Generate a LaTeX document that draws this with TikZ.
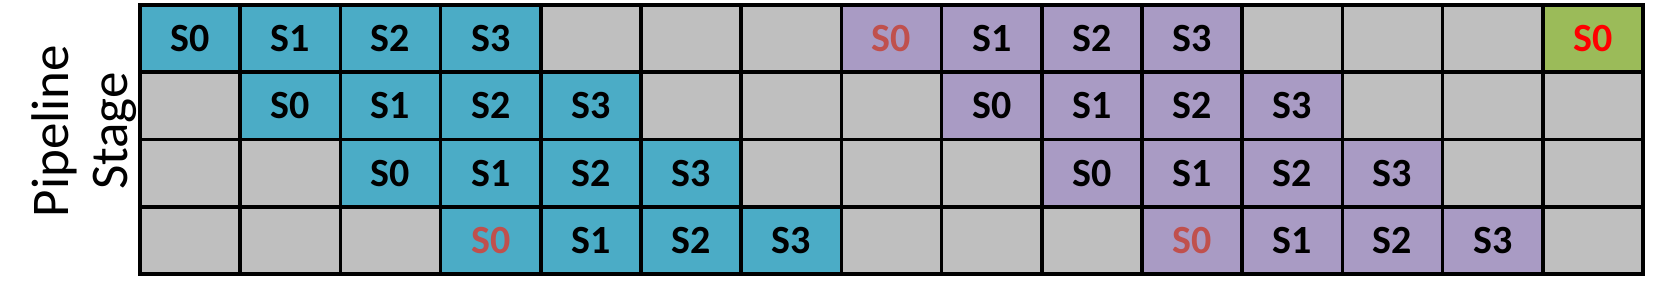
\documentclass[tikz,border=0pt]{standalone}
\usepackage{fontspec}
\setmainfont{Carlito}
\usetikzlibrary{positioning}
\definecolor{wavea}{HTML}{4BACC6}
\definecolor{waveb}{HTML}{A99BC4}
\definecolor{idlegray}{HTML}{BFBFBF}
\definecolor{nextgreen}{HTML}{9BBB59}
\definecolor{softred}{HTML}{C0504D}
\tikzset{
    cell/.style={draw, line width=1.8pt, minimum width=50.1pt, minimum height=33.625pt,
        inner sep=0pt, outer sep=0pt, font=\fontsize{20}{20}\selectfont\bfseries}, % one slot
    gry/.style={cell, fill=idlegray}, % idle slot
    blu/.style={cell, fill=wavea}, % first wave
    blur/.style={blu, text=softred},
    pur/.style={cell, fill=waveb}, % second wave
    purr/.style={pur, text=softred},
    grn/.style={cell, fill=nextgreen, text=red}, % next wave starts
    stagelabel/.style={rotate=90, anchor=base, font=\fontsize{26.5}{30}\selectfont},
}
\begin{document}
\begin{tikzpicture}
    \useasboundingbox (0,0) rectangle (826.5pt,143pt);

    \node[stagelabel] (lblpipe) at (34pt,77.5pt) {Pipeline};
    \node[stagelabel] (lblstage) at (63.5pt,77.5pt) {Stage};

    \foreach \r/\row in {
        1/{blu/S0,blu/S1,blu/S2,blu/S3,gry/,gry/,gry/,purr/S0,pur/S1,pur/S2,pur/S3,gry/,gry/,gry/,grn/S0},
        2/{gry/,blu/S0,blu/S1,blu/S2,blu/S3,gry/,gry/,gry/,pur/S0,pur/S1,pur/S2,pur/S3,gry/,gry/,gry/},
        3/{gry/,gry/,blu/S0,blu/S1,blu/S2,blu/S3,gry/,gry/,gry/,pur/S0,pur/S1,pur/S2,pur/S3,gry/,gry/},
        4/{gry/,gry/,gry/,blur/S0,blu/S1,blu/S2,blu/S3,gry/,gry/,gry/,purr/S0,pur/S1,pur/S2,pur/S3,gry/}}
    {
        \foreach \s/\t [count=\c] in \row
            \node[\s] (c-\r-\c) at ({70pt+(\c-0.5)*50.1pt}, {140.5pt-(\r-0.5)*33.625pt}) {\t};
    }
\end{tikzpicture}
\end{document}
